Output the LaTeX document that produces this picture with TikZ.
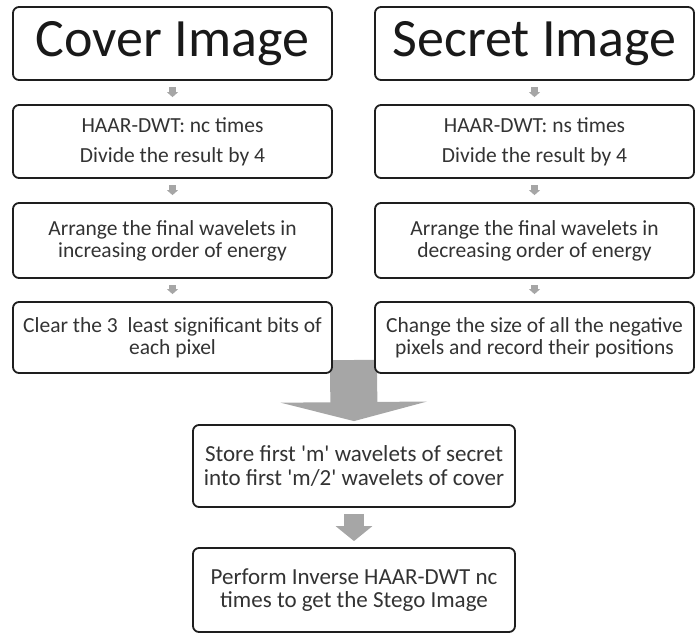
\documentclass[tikz,border=0pt]{standalone}
\usepackage{fontspec}
\setmainfont{Carlito}
\usetikzlibrary{arrows.meta}
\definecolor{arrgray}{HTML}{A6A6A6}
\definecolor{txtgray}{HTML}{333333}
\definecolor{boxline}{HTML}{1E1E1E}
\begin{document}
\begin{tikzpicture}[x=1pt,y=-1pt,
  stepbox/.style={draw=boxline, line width=1.8pt, rounded corners=6pt, fill=white,
    inner sep=0pt, align=center, text=txtgray,
    font=\fontsize{21.5}{22}\selectfont},
  lowbox/.style={stepbox, font=\fontsize{23}{23.5}\selectfont},
  titlebox/.style={stepbox, text=black!90, font=\fontsize{54}{56}\selectfont},
  smallarr/.style={draw=arrgray, line width=7pt, shorten <=6pt, shorten >=7pt,
    -{Triangle[width=11pt 0 0,length=5pt 0 0]}},
  bigarr/.style={draw=arrgray, line width=47pt,
    -{Triangle[width=146pt 0 0,length=19pt 0 0]}},
  midarr/.style={draw=arrgray, line width=20pt, shorten <=6pt, shorten >=6pt,
    -{Triangle[width=36pt 0 0,length=15pt 0 0]}}
]
\useasboundingbox (0,0) rectangle (697,635);

% big merging arrow (behind the boxes)
\coordinate (mergetop) at (353.5,360);
\node[lowbox, minimum width=322pt, minimum height=82pt] (store) at (354,466)
  {Store first \textquotesingle m\textquotesingle\ wavelets of secret\\into first \textquotesingle m/2\textquotesingle\ wavelets of cover};
\draw[bigarr, shorten >=3pt] (mergetop) -- (store.north);

% left column
\node[titlebox, minimum width=319pt, minimum height=73pt] (cover) at (172.5,43.5) {Cover Image};
\node[stepbox, minimum width=319pt, minimum height=73pt] (lh) at (172.5,141.5)
  {HAAR-DWT: nc times\\[8pt]Divide the result by 4};
\node[stepbox, minimum width=319pt, minimum height=75pt] (la) at (172.5,240.5)
  {Arrange the final wavelets in\\increasing order of energy};
\node[stepbox, minimum width=319pt, minimum height=71pt] (lc) at (172.5,337.5)
  {Clear the 3\ \ least significant bits of\\each pixel};

% right column
\node[titlebox, minimum width=319pt, minimum height=73pt] (secret) at (534.5,43.5) {Secret Image};
\node[stepbox, minimum width=319pt, minimum height=73pt] (rh) at (534.5,141.5)
  {HAAR-DWT: ns times\\[8pt]Divide the result by 4};
\node[stepbox, minimum width=319pt, minimum height=75pt] (ra) at (534.5,240.5)
  {Arrange the final wavelets in\\decreasing order of energy};
\node[stepbox, minimum width=319pt, minimum height=71pt] (rc) at (534.5,337.5)
  {Change the size of all the negative\\pixels and record their positions};

% final box
\node[lowbox, minimum width=322pt, minimum height=84pt] (stego) at (354,590)
  {Perform Inverse HAAR-DWT nc\\times to get the Stego Image};

% small arrows
\draw[smallarr] (cover.south) -- (lh.north);
\draw[smallarr] (lh.south) -- (la.north);
\draw[smallarr] (la.south) -- (lc.north);
\draw[smallarr] (secret.south) -- (rh.north);
\draw[smallarr] (rh.south) -- (ra.north);
\draw[smallarr] (ra.south) -- (rc.north);

\draw[midarr] (store.south) -- (stego.north);
\end{tikzpicture}
\end{document}
